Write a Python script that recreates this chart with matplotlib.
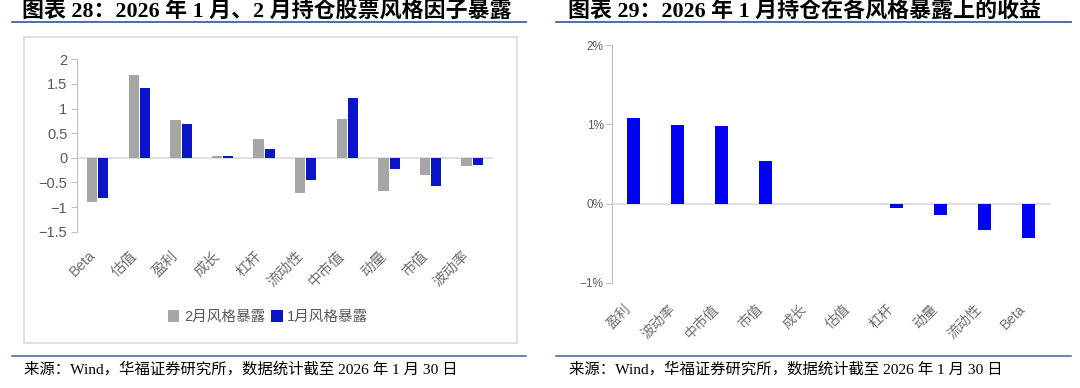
import matplotlib
matplotlib.use("Agg")
import matplotlib.pyplot as plt
import numpy as np
from matplotlib.patches import Rectangle
from matplotlib.lines import Line2D
from matplotlib.ticker import FuncFormatter

plt.rcParams['font.family'] = ['Liberation Sans', 'Noto Sans CJK SC']
plt.rcParams['axes.unicode_minus'] = True

# ---- data: left chart (style factor exposure) ----
factors_left = ['Beta', '估值', '盈利', '成长', '杠杆', '流动性', '中市值', '动量', '市值', '波动率']
exposure_feb = [-0.90, 1.69, 0.76, 0.04, 0.39, -0.72, 0.78, -0.68, -0.35, -0.17]
exposure_jan = [-0.82, 1.41, 0.69, 0.03, 0.18, -0.45, 1.22, -0.23, -0.57, -0.14]

# ---- data: right chart (January return on each style exposure) ----
factors_right = ['盈利', '波动率', '中市值', '市值', '成长', '估值', '杠杆', '动量', '流动性', 'Beta']
returns_jan = [1.08, 0.99, 0.98, 0.535, 0.0, 0.0, -0.06, -0.15, -0.34, -0.43]  # percent

gray = '#A6A6A6'
blue_left = '#0A14C8'
blue_right = '#0000F5'
tick_gray = '#595959'
axis_gray = '#BFBFBF'
rule_blue = '#3E63A3'

W, H = 1080, 388
fig = plt.figure(figsize=(W / 100, H / 100), dpi=100)

def fx(px):
    return px / W

def fy(py):
    return 1 - py / H

title_font = ['Liberation Serif', 'Noto Sans CJK SC']

# -------------------------------
# frame, titles, rules, sources
# -------------------------------
fig.patches.append(Rectangle((fx(24), fy(342.7)), fx(516.7) - fx(24), fy(36.7) - fy(342.7),
                             transform=fig.transFigure, fill=False, edgecolor='#DADADA', lw=1.2))

for x0, x1 in [(12, 526), (556, 1071)]:
    fig.lines.append(Line2D([fx(x0), fx(x1)], [fy(22), fy(22)], transform=fig.transFigure,
                            color=rule_blue, lw=1.3))
    fig.lines.append(Line2D([fx(x0), fx(x1)], [fy(356), fy(356)], transform=fig.transFigure,
                            color=rule_blue, lw=1.1))

fig.text(fx(22), fy(12), '图表 28：2026 年 1 月、2 月持仓股票风格因子暴露', family=title_font,
         weight='heavy', fontsize=15.8, va='center', ha='left')
fig.text(fx(568), fy(12), '图表 29：2026 年 1 月持仓在各风格暴露上的收益', family=title_font,
         weight='heavy', fontsize=15.8, va='center', ha='left')

src = '来源：Wind，华福证券研究所，数据统计截至 2026 年 1 月 30 日'
fig.text(fx(24), fy(369), src, family=title_font, fontsize=11.1, va='center', ha='left')
fig.text(fx(569), fy(369), src, family=title_font, fontsize=11.1, va='center', ha='left')

# -------------------------------
# left chart
# -------------------------------
ax1 = fig.add_axes([fx(77), fy(231.7), fx(493) - fx(77), fy(59.3) - fy(231.7)])
x = np.arange(len(factors_left))
ax1.bar(x - 0.135, exposure_feb, width=0.25, color=gray, label='2月风格暴露')
ax1.bar(x + 0.135, exposure_jan, width=0.24, color=blue_left, label='1月风格暴露')
ax1.axhline(0, color='#D9D9D9', lw=1.2, zorder=0)
ax1.set_xlim(-0.5, len(factors_left) - 0.5)
ax1.set_ylim(-1.5, 2)
ax1.set_yticks([-1.5, -1, -0.5, 0, 0.5, 1, 1.5, 2])
ax1.yaxis.set_major_formatter(FuncFormatter(lambda v, p: f'{v:g}'.replace('-', '−')))
ax1.set_xticks(x)
ax1.set_xticklabels(factors_left, rotation=45, ha='right', va='top')
for s in ['top', 'right', 'bottom']:
    ax1.spines[s].set_visible(False)
ax1.spines['left'].set_color(axis_gray)
ax1.tick_params(axis='y', colors=tick_gray, labelsize=10.5, length=4, color=axis_gray, pad=3)
ax1.tick_params(axis='x', colors='#6E6E6E', labelsize=10.5, length=0, pad=12)
ax1.patch.set_alpha(0)

fig.legend(loc='center', bbox_to_anchor=(fx(268), fy(317)), ncol=2, frameon=False,
           fontsize=10.5, handlelength=0.8, handleheight=0.8, handletextpad=0.3,
           columnspacing=0.4, labelcolor=tick_gray)

# -------------------------------
# right chart
# -------------------------------
ax2 = fig.add_axes([fx(612), fy(282.7), fx(1050) - fx(612), fy(45.3) - fy(282.7)])
x2 = np.arange(len(factors_right))
ax2.bar(x2, returns_jan, width=0.3, color=blue_right)
ax2.axhline(0, color='#D9D9D9', lw=1.2, zorder=0)
ax2.set_xlim(-0.5, len(factors_right) - 0.5)
ax2.set_ylim(-1, 2)
ax2.set_yticks([-1, 0, 1, 2])
ax2.yaxis.set_major_formatter(FuncFormatter(lambda v, p: f'{v:.0f}%'.replace('-', '−')))
ax2.set_xticks(x2)
ax2.set_xticklabels(factors_right, rotation=45, ha='right', va='top')
for s in ['top', 'right', 'bottom']:
    ax2.spines[s].set_visible(False)
ax2.spines['left'].set_color(axis_gray)
ax2.tick_params(axis='y', colors=tick_gray, labelsize=8.5, length=4, color=axis_gray, pad=2)
ax2.tick_params(axis='x', colors='#6E6E6E', labelsize=10, length=0, pad=14)

fig.savefig('out.png', dpi=100)
